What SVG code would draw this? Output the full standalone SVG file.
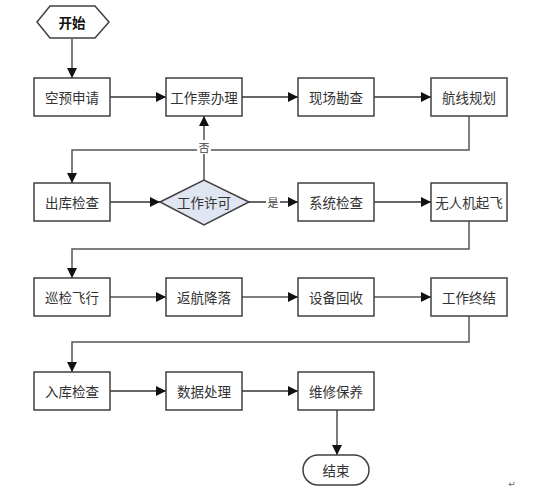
<svg xmlns="http://www.w3.org/2000/svg" width="548" height="489" viewBox="0 0 548 489">
<defs>
<style>
.box{fill:#fff;stroke:#404040;stroke-width:1.5}
.t{font-family:"Noto Sans CJK SC","Noto Sans",sans-serif;font-size:13.5px;fill:#333;text-anchor:middle;dominant-baseline:central}
.c{fill:none;stroke:#333;stroke-width:1.3}
.g{fill:none;stroke:#555;stroke-width:1.5}
.lbl{font-family:"Noto Sans CJK SC","Noto Sans",sans-serif;font-size:11px;fill:#444;text-anchor:middle;dominant-baseline:central}
</style>
<marker id="ah" viewBox="0 0 10 10" refX="10" refY="5" markerWidth="10" markerHeight="10" markerUnits="userSpaceOnUse" orient="auto">
<path d="M0,0 L10,5 L0,10 z" fill="#111"/>
</marker>
</defs>
<rect width="548" height="489" fill="#fff"/>
<g id="connectors">
<line class="c" x1="72" y1="39" x2="72" y2="78" marker-end="url(#ah)"/>
<line class="c" x1="110" y1="97" x2="166" y2="97" marker-end="url(#ah)"/>
<line class="c" x1="242" y1="97" x2="298" y2="97" marker-end="url(#ah)"/>
<line class="c" x1="374" y1="97" x2="431" y2="97" marker-end="url(#ah)"/>
<polyline class="g" points="469,116 469,150 72,150 72,183" marker-end="url(#ah)"/>
<line class="c" x1="110" y1="202" x2="160" y2="202" marker-end="url(#ah)"/>
<line class="c" x1="204" y1="180" x2="204" y2="116" marker-end="url(#ah)"/>
<line class="c" x1="249" y1="202" x2="298" y2="202" marker-end="url(#ah)"/>
<line class="c" x1="374" y1="202" x2="431" y2="202" marker-end="url(#ah)"/>
<polyline class="g" points="469,221 469,249 72,249 72,278" marker-end="url(#ah)"/>
<line class="g" x1="110" y1="297" x2="166" y2="297" marker-end="url(#ah)"/>
<line class="g" x1="242" y1="297" x2="298" y2="297" marker-end="url(#ah)"/>
<line class="g" x1="374" y1="297" x2="431" y2="297" marker-end="url(#ah)"/>
<polyline class="g" points="469,316 469,342 72,342 72,372" marker-end="url(#ah)"/>
<line class="c" x1="110" y1="391" x2="166" y2="391" marker-end="url(#ah)"/>
<line class="c" x1="242" y1="391" x2="298" y2="391" marker-end="url(#ah)"/>
<line class="c" x1="337" y1="410" x2="337" y2="455" marker-end="url(#ah)"/>
<rect x="197" y="140" width="14" height="14" fill="#fff"/>
<text class="lbl" x="204" y="147">否</text>
<rect x="266" y="195" width="14" height="14" fill="#fff"/>
<text class="lbl" x="273" y="202">是</text>
</g>
<g id="n-start">
<polygon class="box" points="37,22 50,6 95,6 109,22 95,38 50,38"/>
<text class="t" x="72" y="22" font-weight="bold" style="fill:#111">开始</text>
</g>
<g id="n1"><rect class="box" x="34" y="78" width="76" height="38"/><text class="t" x="72" y="97">空预申请</text></g>
<g id="n2"><rect class="box" x="166" y="78" width="76" height="38"/><text class="t" x="204" y="97">工作票办理</text></g>
<g id="n3"><rect class="box" x="298" y="78" width="76" height="38"/><text class="t" x="336" y="97">现场勘查</text></g>
<g id="n4"><rect class="box" x="431" y="78" width="76" height="38"/><text class="t" x="469" y="97">航线规划</text></g>
<g id="n5"><rect class="box" x="34" y="183" width="76" height="38"/><text class="t" x="72" y="202">出库检查</text></g>
<g id="n-decision"><polygon class="box" style="fill:#dfe6f1" points="160,202 204,180 249,202 204,225"/><text class="t" x="204" y="202">工作许可</text></g>
<g id="n6"><rect class="box" x="298" y="183" width="76" height="38"/><text class="t" x="336" y="202">系统检查</text></g>
<g id="n7"><rect class="box" x="431" y="183" width="76" height="38"/><text class="t" x="469" y="202">无人机起飞</text></g>
<g id="n8"><rect class="box" x="34" y="278" width="76" height="38"/><text class="t" x="72" y="297">巡检飞行</text></g>
<g id="n9"><rect class="box" x="166" y="278" width="76" height="38"/><text class="t" x="204" y="297">返航降落</text></g>
<g id="n10"><rect class="box" x="298" y="278" width="76" height="38"/><text class="t" x="336" y="297">设备回收</text></g>
<g id="n11"><rect class="box" x="431" y="278" width="76" height="38"/><text class="t" x="469" y="297">工作终结</text></g>
<g id="n12"><rect class="box" x="34" y="372" width="76" height="38"/><text class="t" x="72" y="391">入库检查</text></g>
<g id="n13"><rect class="box" x="166" y="372" width="76" height="38"/><text class="t" x="204" y="391">数据处理</text></g>
<g id="n14"><rect class="box" x="298" y="372" width="76" height="38"/><text class="t" x="336" y="391">维修保养</text></g>
<g id="n-end"><rect class="box" x="303" y="455" width="66" height="30" rx="15" ry="15"/><text class="t" x="336" y="470">结束</text></g>
<text x="512" y="487" font-family="'DejaVu Sans',sans-serif" font-size="9" fill="#666" text-anchor="middle">↵</text>
</svg>
